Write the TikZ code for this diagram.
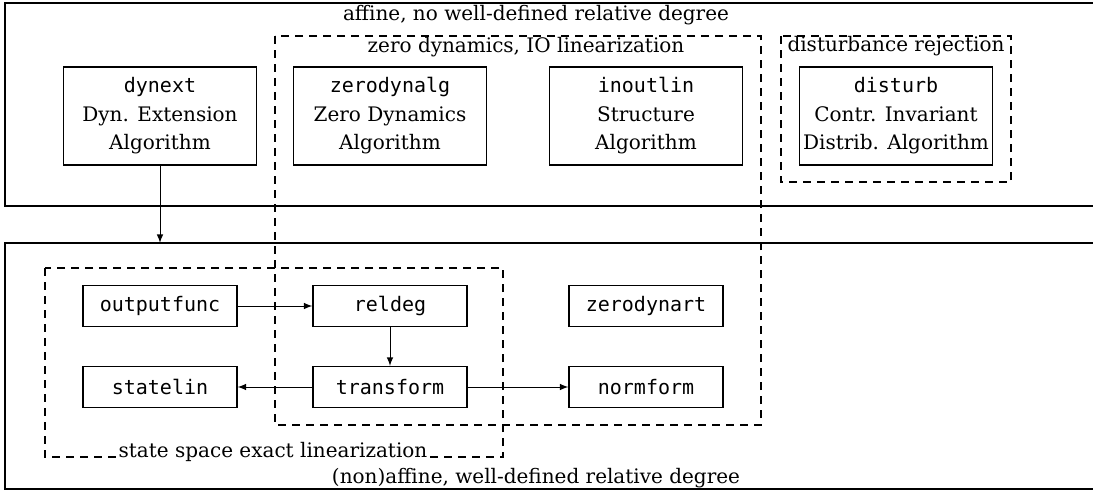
\documentclass[tikz,border=0pt]{standalone}
\usepackage{fontspec}
\setmainfont{DejaVu Serif}
\setmonofont{DejaVu Sans Mono}

\begin{document}
\begin{tikzpicture}[
  x=0.5pt, y=-0.5pt,
  every node/.style={font=\fontsize{10}{14.25}\selectfont},
  algbox/.style={draw, line width=0.6pt, minimum width=96.5pt, minimum height=49pt, align=center, inner sep=0pt},
  fnbox/.style={draw, line width=0.6pt, minimum width=77pt, minimum height=20.5pt, inner sep=0pt, font=\fontsize{10}{14.25}\selectfont\ttfamily},
  grp/.style={dash pattern=on 4pt off 3pt, line width=0.6pt},
  outer/.style={line width=0.8pt},
  arr/.style={-latex, line width=0.5pt}
]
\useasboundingbox (0,0) rectangle (1093,494);
% the two regions
\draw[outer] (1093,3) -- (5,3) -- (5,206) -- (1093,206);
\draw[outer] (1093,243) -- (5,243) -- (5,489) -- (1093,489);
\node (affine) at (536,15) {affine, no well-defined relative degree};
\node[anchor=base] (nonaffine) at (536,483) {(non)affine, well-defined relative degree};
\coordinate (lowtop) at (160,243);
% dashed groups
\draw[grp] (275,36) rectangle (761,425);
\node (zdlabel) at (526,47) {zero dynamics, IO linearization};
\draw[grp] (781,36) rectangle (1011,182);
\node (drlabel) at (896,46) {disturbance rejection};
\draw[grp] (45,268) rectangle (503,457);
\node[anchor=base, fill=white, inner sep=1pt] (sslabel) at (273,457) {state space exact linearization};
% algorithms
\node[algbox] (dynext) at (160,116) {\texttt{dynext}\\Dyn. Extension\\Algorithm};
\node[algbox] (zerodynalg) at (390,116) {\texttt{zerodynalg}\\Zero Dynamics\\Algorithm};
\node[algbox] (inoutlin) at (646,116) {\texttt{inoutlin}\\Structure\\Algorithm};
\node[algbox] (disturb) at (896,116) {\texttt{disturb}\\Contr. Invariant\\Distrib. Algorithm};
% functions
\node[fnbox] (outputfunc) at (160,306) {outputfunc};
\node[fnbox] (reldeg) at (390,306) {reldeg};
\node[fnbox] (zerodynart) at (646,306) {zerodynart};
\node[fnbox] (statelin) at (160,387) {statelin};
\node[fnbox] (transform) at (390,387) {transform};
\node[fnbox] (normform) at (646,387) {normform};
\draw[arr] (dynext) -- (dynext.south |- lowtop);
\draw[arr] (outputfunc) -- (reldeg);
\draw[arr] (reldeg) -- (transform);
\draw[arr] (transform) -- (statelin);
\draw[arr] (transform) -- (normform);
\end{tikzpicture}
\end{document}
